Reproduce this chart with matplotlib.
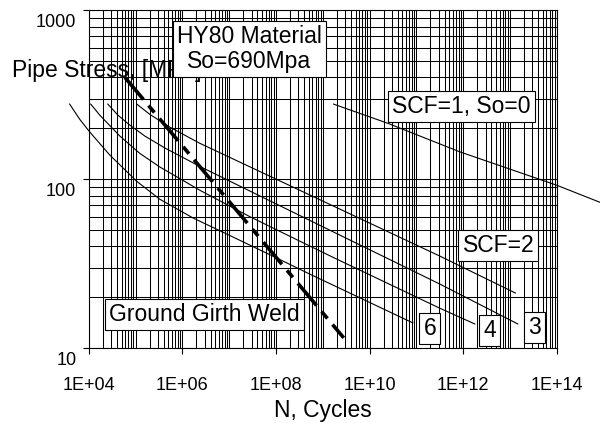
import matplotlib
matplotlib.use("Agg")
import matplotlib.pyplot as plt
from matplotlib.ticker import LogLocator, NullFormatter
from matplotlib.transforms import ScaledTranslation

plt.rcParams["font.family"] = ["Liberation Sans", "DejaVu Sans"]

# S-N curves for HY80 pipe: stress range [MPa] against cycles to failure
scf1_n = [1.7e9, 2.45e10, 8.5e11, 1.0e14, 8.3e14]
scf1_s = [278, 214, 145, 92, 73]

scf2_n = [1.06e5, 2.0e5, 5.4e5, 2.35e6, 1.7e7, 3.2e8, 3.2e11, 1.3e13]
scf2_s = [278, 242, 203, 163, 126, 86, 35, 21.2]

scf3_n = [2.55e4, 4.2e4, 7.5e4, 1.57e5, 4.2e5, 2.35e6, 1.68e7, 3.2e8, 3.2e11, 1.47e13]
scf3_s = [278, 239, 209, 180, 153, 119, 91, 61, 23.9, 13.9]

scf4_n = [1.1e4, 1.72e4, 4.6e4, 1.23e5, 3.3e5, 2.35e6, 2.75e7, 3.2e8, 2.0e9, 3.2e11, 1.77e12]
scf4_s = [278, 239, 180, 142, 118, 86, 60, 43, 33.6, 17.2, 13.9]

scf6_n = [3.9e3, 6.4e3, 1.05e4, 2.8e4, 1.06e5, 3.3e5, 1.67e6, 8.9e6, 8.6e7, 5.3e8, 8.4e10]
scf6_s = [278, 226, 190, 139, 97, 76, 59, 47.3, 35, 27.4, 14.1]

# ground girth weld design curve (slope m = 3)
weld_n = [5.9e4, 2.8e9]
weld_s = [400, 11.5]

x_ticks = [1e4, 1e6, 1e8, 1e10, 1e12, 1e14]
x_tick_labels = ["1E+04", "1E+06", "1E+08", "1E+10", "1E+12", "1E+14"]
y_ticks = [10, 100, 1000]
y_tick_labels = ["10", "100", "1000"]

fig = plt.figure(figsize=(6.0, 4.23), dpi=100)
ax = fig.add_axes([0.148, 0.177, 0.78, 0.799])
ax.set_xscale("log")
ax.set_yscale("log")
ax.set_xlim(1e4, 1e14)
ax.set_ylim(10, 1000)

ax.set_xticks(x_ticks)
ax.set_xticklabels(x_tick_labels)
ax.set_yticks(y_ticks)
ax.set_yticklabels(y_tick_labels)
for axis in (ax.xaxis, ax.yaxis):
    axis.set_minor_locator(LogLocator(base=10, subs=range(1, 10), numticks=200))
    axis.set_minor_formatter(NullFormatter())

ax.tick_params(which="minor", length=0)
ax.tick_params(which="major", direction="out", length=4, width=0.8,
               color="black", labelsize=13)
ax.tick_params(axis="x", pad=16.5)
ax.tick_params(axis="y", pad=5)
ax.grid(True, which="both", color="black", linewidth=0.75)
ax.set_axisbelow(True)
for sp in ax.spines.values():
    sp.set_linewidth(0.8)
    sp.set_color("black")

# y labels sit a little below their gridlines
for lab in ax.get_yticklabels():
    lab.set_transform(lab.get_transform()
                      + ScaledTranslation(0, -0.105, fig.dpi_scale_trans))

# curves
thin = dict(color="black", linewidth=0.8, clip_on=False, zorder=3)
ax.plot(scf1_n, scf1_s, **thin)
ax.plot(scf2_n, scf2_s, **thin)
ax.plot(scf3_n, scf3_s, **thin)
ax.plot(scf4_n, scf4_s, **thin)
ax.plot(scf6_n, scf6_s, **thin)
ax.plot(weld_n, weld_s, color="black", linewidth=2.6, zorder=3,
        linestyle=(0, (8, 2.2, 2.5, 2.2)))

ax.set_xlabel("N, Cycles", fontsize=16.5)
ax.xaxis.label.set_va("baseline")
ax.xaxis.set_label_coords(0.5, -0.204)

ax.text(12 / 600, 1 - 77 / 423, "Pipe Stress, [MPa]", transform=fig.transFigure,
        fontsize=16.5, ha="left", va="baseline", zorder=4)

box = dict(boxstyle="square,pad=0.18", facecolor="white", edgecolor="black",
           linewidth=0.8)
labels = [
    (0.343, 0.886, "HY80 Material\nSo=690Mpa"),
    (0.796, 0.716, "SCF=1, So=0"),
    (0.875, 0.303, "SCF=2"),
    (0.247, 0.099, "Ground Girth Weld"),
    (0.729, 0.058, "6"),
    (0.857, 0.053, "4"),
    (0.952, 0.061, "3"),
]
for x, y, s in labels:
    ax.text(x, y, s, transform=ax.transAxes, fontsize=16.5, ha="center",
            va="center", linespacing=1.1, bbox=box, zorder=6)

fig.savefig("out.png", dpi=100)
